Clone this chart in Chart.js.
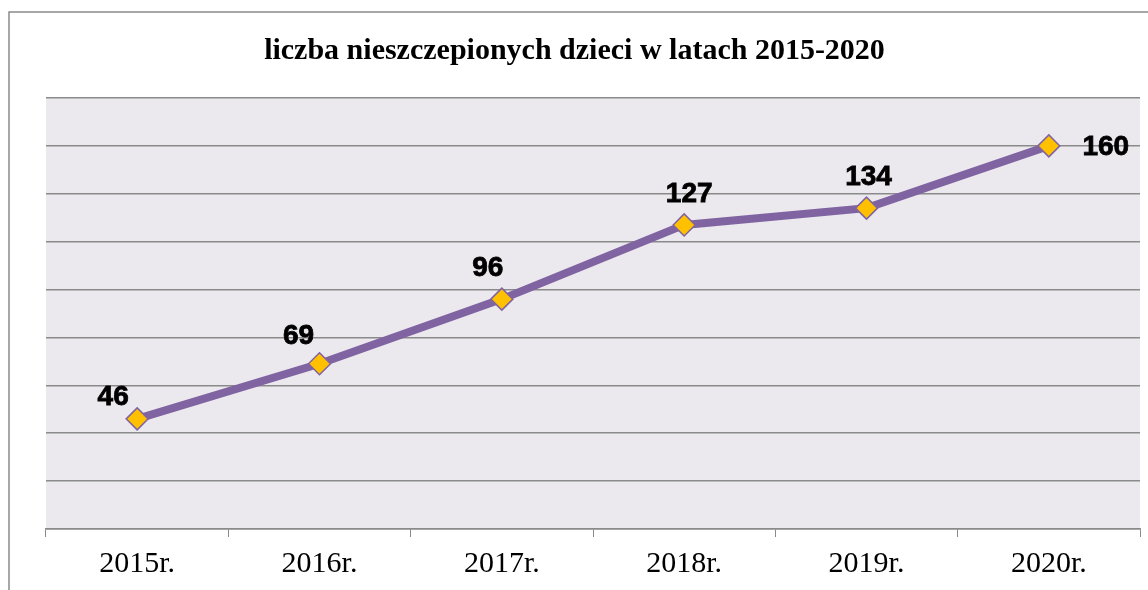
<!DOCTYPE html>
<html>
<head>
<meta charset="utf-8">
<script src="https://cdn.jsdelivr.net/npm/chart.js@4/dist/chart.umd.min.js"></script>
<style>
  html, body { margin: 0; padding: 0; background: #fff; }
  #wrap { width: 1148px; height: 590px; }
</style>
</head>
<body>
<div id="wrap"><canvas id="vaccChart" width="1148" height="590"></canvas></div>
<script>
// categories and values
const years = ['2015r.', '2016r.', '2017r.', '2018r.', '2019r.', '2020r.'];
const unvaccinated = [46, 69, 96, 127, 134, 160];

// where each value label sits relative to its point
const labelOffsets = [[-24, -22], [-21, -28], [-14, -31], [5, -31], [2, -31], [57, 1]];

// grey frame + plot background
const framePlugin = {
    id: 'frame',
    beforeDraw(chart) {
        const { ctx, chartArea } = chart;
        ctx.save();
        ctx.fillStyle = '#ebe8ee';
        ctx.fillRect(chartArea.left, chartArea.top, chartArea.right - chartArea.left, chartArea.bottom - chartArea.top);
        ctx.strokeStyle = '#8a8a8a';
        ctx.lineWidth = 1.5;
        ctx.beginPath();
        ctx.moveTo(9, 590);
        ctx.lineTo(9, 12);
        ctx.lineTo(1148, 12);
        ctx.stroke();
        ctx.restore();
    }
};

// value labels next to the markers
const valueLabels = {
    id: 'valueLabels',
    afterDatasetsDraw(chart) {
        const { ctx } = chart;
        const meta = chart.getDatasetMeta(0);
        ctx.save();
        ctx.font = 'bold 28px "Liberation Sans", Arial, sans-serif';
        ctx.fillStyle = '#000';
        ctx.strokeStyle = '#000';
        ctx.lineWidth = 0.8;
        ctx.textAlign = 'center';
        ctx.textBaseline = 'middle';
        meta.data.forEach((pt, i) => {
            const off = labelOffsets[i];
            const txt = String(unvaccinated[i]);
            ctx.fillText(txt, pt.x + off[0], pt.y + off[1]);
            ctx.strokeText(txt, pt.x + off[0], pt.y + off[1]);
        });
        ctx.restore();
    }
};

const ctx = document.getElementById('vaccChart').getContext('2d');
const vaccChart = new Chart(ctx, {
    type: 'line',
    data: {
        labels: years,
        datasets: [{
            label: 'liczba nieszczepionych dzieci',
            data: unvaccinated,
            borderColor: '#8064a2',
            borderWidth: 8,
            tension: 0,
            pointStyle: 'rectRot',
            pointRadius: 11,
            pointHoverRadius: 11,
            pointBackgroundColor: '#ffc000',
            pointBorderColor: '#8064a2',
            pointBorderWidth: 1.5
        }]
    },
    options: {
        responsive: false,
        animation: false,
        layout: {
            autoPadding: false,
            padding: { left: 9, right: 8, top: 0, bottom: 0 }
        },
        plugins: {
            legend: { display: false },
            tooltip: { enabled: false },
            title: {
                display: true,
                text: 'liczba nieszczepionych dzieci w latach 2015-2020',
                color: '#000',
                font: { family: '"Liberation Serif", "Times New Roman", serif', size: 30, weight: 'bold', lineHeight: 1.2 },
                padding: { top: 33, bottom: 29 }
            }
        },
        scales: {
            x: {
                offset: true,
                afterFit(scale) {
                    scale.height = 61;
                    scale.paddingLeft = 0;
                    scale.paddingRight = 0;
                },
                grid: {
                    offset: true,
                    drawOnChartArea: false,
                    drawTicks: true,
                    tickLength: 8,
                    color: '#8a8a8a'
                },
                border: { display: true, color: '#8a8a8a', width: 1.5 },
                ticks: {
                    color: '#000',
                    padding: 9,
                    maxRotation: 0,
                    font: { family: '"Liberation Serif", "Times New Roman", serif', size: 30 }
                }
            },
            y: {
                min: 0,
                max: 180,
                afterFit(scale) { scale.width = 37; },
                ticks: { display: false, stepSize: 20 },
                grid: { color: '#8a8a8a', lineWidth: 1.5, drawTicks: false },
                border: { display: false }
            }
        }
    },
    plugins: [framePlugin, valueLabels]
});
</script>
</body>
</html>
